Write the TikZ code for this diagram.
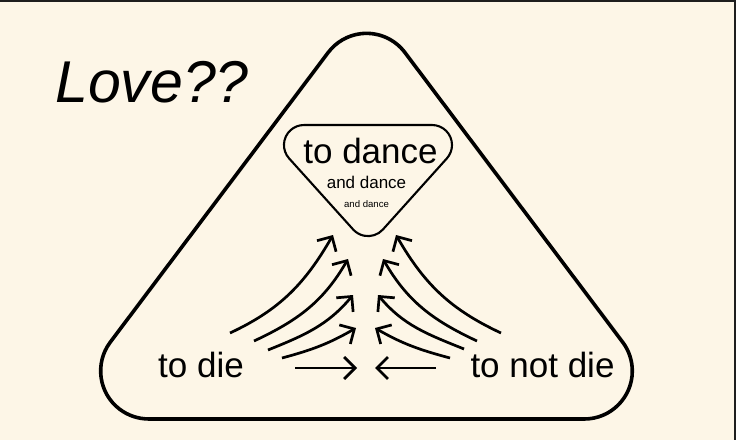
\documentclass[tikz,border=0pt]{standalone}
\usepackage{fontspec}
\setmainfont{Liberation Sans}
\usetikzlibrary{arrows.meta}
\definecolor{paper}{HTML}{FDF6E7}
\definecolor{frame}{HTML}{1E1E1E}

\begin{document}
\begin{tikzpicture}[x=1pt,y=1pt]
\tikzstyle{every node}+=[inner sep=0pt]
\tikzstyle{word}=[anchor=base,font=\fontsize{35}{40}\selectfont]
\tikzstyle{flow}=[line width=2.7pt,-{Straight Barb[length=11pt,width=22pt]}]
\useasboundingbox (0,0) rectangle (736,440);
\fill [paper] (0,0) rectangle (736,440);
\fill [frame] (0,437.5) rectangle (736,440);
\fill [frame] (733.5,0) rectangle (736,440);
% outer rounded triangle
\draw [black,line width=3.6pt] (148.7,21) -- (584.3,21) arc[start angle=-90,end angle=36.95,radius=48]
  -- (404.9,387.5) arc[start angle=36.95,end angle=143.05,radius=48]
  -- (110.3,97.9) arc[start angle=143.05,end angle=270,radius=48] -- cycle;
% inner box
\draw [black,line width=2.1pt] (304,315) -- (432,315) arc[start angle=90,end angle=-42,radius=20]
  -- (382.9,210.5) arc[start angle=-42,end angle=-138,radius=20]
  -- (289.1,281.6) arc[start angle=-138,end angle=-270,radius=20] -- cycle;
\node (love) [anchor=base west,font=\fontsize{59}{64}\selectfont\itshape] at (55,337) {Love??};
\node (dance) [word] at (370.5,277) {to dance};
\node (dancetwo) [anchor=base,font=\fontsize{17}{20}\selectfont] at (366.5,252) {and dance};
\node (dancethree) [anchor=base,font=\fontsize{9.6}{11}\selectfont] at (366.5,233) {and dance};
\node (die) [word] at (201,63) {to die};
\node (notdie) [word] at (542.5,63) {to not die};
% arrows from the left
\draw [flow] (230,107) to[out=25,in=-120] (333,205);
\draw [flow] (254,99) to[out=25,in=-120] (348,181);
\draw [flow] (268,90) to[out=22,in=-130] (353,145);
\draw [flow] (282,82) to[out=15,in=-150] (356,112);
\draw [flow] (295,72) -- (357,72);
% arrows from the right
\draw [flow] (501,107) to[out=155,in=-60] (396,205);
\draw [flow] (477,99) to[out=155,in=-60] (383,181);
\draw [flow] (464,91) to[out=158,in=-50] (378,145);
\draw [flow] (450,82) to[out=165,in=-30] (375,112);
\draw [flow] (436,72) -- (375,72);
\end{tikzpicture}
\end{document}
